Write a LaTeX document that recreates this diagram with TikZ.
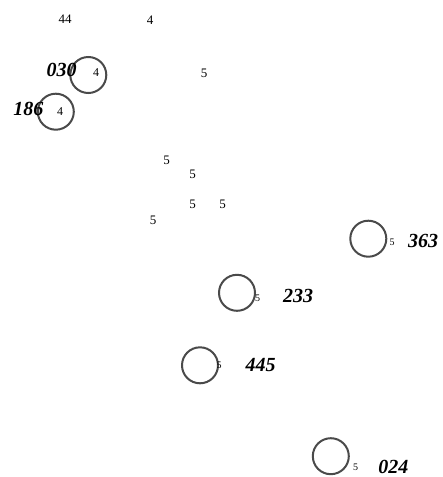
\documentclass[tikz,border=0pt]{standalone}
\usepackage{fontspec}
\setmainfont{Liberation Serif}
\usetikzlibrary{positioning}
\definecolor{cring}{HTML}{4A4A4A}
\tikzset{
  every picture/.style={x=1pt, y=-1pt},
  ring/.style={draw=cring, circle, line width=2pt, minimum size=36pt, inner sep=0pt},
  tag/.style={font=\fontsize{20}{22}\selectfont\bfseries\itshape, inner sep=0pt},
  num/.style={font=\fontsize{13}{14}\selectfont, inner sep=0pt},
  smallnum/.style={font=\fontsize{10}{11}\selectfont, inner sep=0pt},
}

\begin{document}
\begin{tikzpicture}
  \useasboundingbox (0,0) rectangle (443,477);
  % ---- top numbers ----
  \node[num] (n44) at (65,19.5) {44};
  \node[num] (n4a) at (150,20) {4};
  \node[num] (n5a) at (204,73) {5};
  % ---- upper left rings ----
  \node[ring] (r030) at (88.3,75) {};
  \node[tag] (t030) at (61.5,70) {030};
  \node[num, font=\fontsize{12}{13}\selectfont] (n4b) at (96,73) {4};
  \node[ring] (r186) at (55.8,111.7) {};
  \node[tag] (t186) at (28.3,109) {186};
  \node[num, font=\fontsize{12}{13}\selectfont] (n4c) at (60,112) {4};
  % ---- middle numbers ----
  \node[num] (n5b) at (166.7,160) {5};
  \node[num] (n5c) at (192.7,174) {5};
  \node[num] (n5d) at (192.7,204) {5};
  \node[num] (n5e) at (222.7,204) {5};
  \node[num] (n5f) at (153,220) {5};
  % ---- lower rings ----
  \node[ring] (r363) at (368.3,238.7) {};
  \node[smallnum] (n5g) at (392,242.7) {5};
  \node[tag] (t363) at (423,240.7) {363};
  \node[ring] (r233) at (237,292.8) {};
  \node[smallnum] (n5h) at (257.7,298.3) {5};
  \node[tag] (t233) at (298,295.5) {233};
  \node[ring] (r445) at (200,365.3) {};
  \node[smallnum] (n5i) at (219,365.7) {5};
  \node[tag] (t445) at (260.5,365) {445};
  \node[ring] (r024) at (330.8,456.2) {};
  \node[smallnum] (n5j) at (355.7,467.7) {5};
  \node[tag] (t024) at (393.3,467) {024};
\end{tikzpicture}
\end{document}
